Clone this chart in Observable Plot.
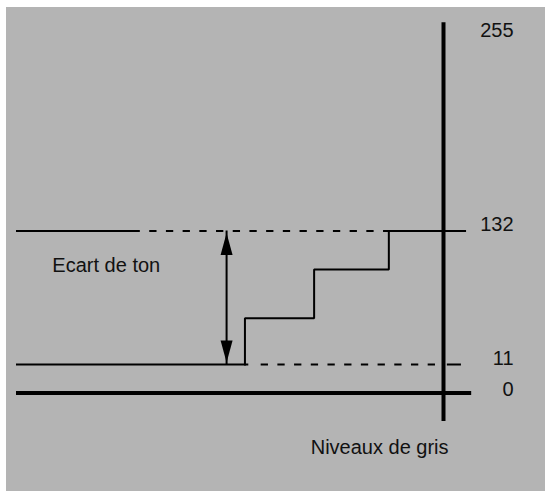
<!DOCTYPE html>
<html>
<head>
<meta charset="utf-8">
<script src="https://cdn.jsdelivr.net/npm/d3@7"></script>
<script src="https://cdn.jsdelivr.net/npm/@observablehq/plot@0.6"></script>
<style>
  html, body { margin: 0; padding: 0; background: #ffffff; }
  #chart { padding: 7px 0 0 6px; }
  #chart svg { display: block; background: #b4b4b4; }
</style>
</head>
<body>
<div id="chart"></div>
<script>
// Grey levels shown on the scale
const levels = [0, 11, 132, 255];
const levelLabels = ["0", "11", "132", "255"];
const levelLabelNudge = [2.5, 0, 0, 0];

// Staircase (tone steps) between 11 and 132
const stairX = [53.5, 53.5, 69.7, 69.7, 87.2, 87.2];
const stairY = [11, 53, 53, 97, 97, 132];

// Horizontal reference segments
const solidY  = [132, 132, 11, 11];
const solidX1 = [0, 87.2, 0, 100.9];
const solidX2 = [29.0, 105.4, 54.4, 104.2];
const dashY  = [132, 11];
const dashX1 = [31.2, 57.3];
const dashX2 = [87.2, 98.4];

// Main axes
const baseY = 0, baseX1 = 0, baseX2 = 106.6;
const axisX = 100, axisY1 = -11, axisY2 = 264;

// "Ecart de ton" double arrow
const arrowX = 49.2, arrowFrom = 11, arrowTo = 132;

// Texts
const gapLabel = "Ecart de ton";
const gapLabelX = 8.4, gapLabelY = 95;
const axisTitle = "Niveaux de gris";
const axisTitleX = 68.9, axisTitleY = -23.5;
const levelLabelX = 116.4;

const solid = solidY.map((y, i) => ({y, x1: solidX1[i], x2: solidX2[i]}));
const dashed = dashY.map((y, i) => ({y, x1: dashX1[i], x2: dashX2[i]}));
const stair = stairX.map((x, i) => ({x, y: stairY[i]}));
const labels = levels.map((v, i) => ({y: v, text: levelLabels[i], dy: levelLabelNudge[i]}));

const font = "'Liberation Sans', Arial, sans-serif";

const chart = Plot.plot({
  width: 539,
  height: 484,
  margin: 0,
  style: {background: "#b4b4b4", fontFamily: font},
  x: {type: "linear", domain: [0, 100], range: [10, 437], axis: null},
  y: {type: "linear", domain: [0, 11, 132, 255], range: [385.5, 357, 223.5, 29.5], axis: null},
  marks: [
    Plot.ruleY(solid, {y: "y", x1: "x1", x2: "x2", stroke: "black", strokeWidth: 2}),
    Plot.ruleY(dashed, {y: "y", x1: "x1", x2: "x2", stroke: "black", strokeWidth: 2, strokeDasharray: "7.3,9.4"}),
    Plot.line(stair, {x: "x", y: "y", stroke: "black", strokeWidth: 2, strokeLinejoin: "miter", strokeLinecap: "square"}),
    Plot.ruleY([baseY], {x1: baseX1, x2: baseX2, stroke: "black", strokeWidth: 4}),
    Plot.ruleX([axisX], {y1: axisY1, y2: axisY2, stroke: "black", strokeWidth: 4}),
    Plot.ruleX([arrowX], {y1: arrowFrom, y2: arrowTo, stroke: "black", strokeWidth: 2, dy: 0}),
    Plot.vector([{x: arrowX, y: arrowTo}], {x: "x", y: "y", length: 22, r: 6, rotate: 0, shape: "spike", anchor: "end", fill: "black", stroke: "none", dy: 2}),
    Plot.vector([{x: arrowX, y: arrowFrom}], {x: "x", y: "y", length: 22, r: 6, rotate: 180, shape: "spike", anchor: "end", fill: "black", stroke: "none", dy: -2}),
    Plot.text(labels.filter(d => d.dy === 0), {x: levelLabelX, y: "y", text: "text", textAnchor: "end", lineAnchor: "bottom", fontSize: 20, fill: "#111"}),
    Plot.text(labels.filter(d => d.dy !== 0), {x: levelLabelX, y: "y", text: "text", textAnchor: "end", lineAnchor: "bottom", fontSize: 20, fill: "#111", dy: 2.5}),
    Plot.text([gapLabel], {x: gapLabelX, y: gapLabelY, text: d => d, textAnchor: "start", lineAnchor: "bottom", fontSize: 20, fill: "#111"}),
    Plot.text([axisTitle], {x: axisTitleX, y: axisTitleY, text: d => d, textAnchor: "start", lineAnchor: "bottom", fontSize: 20, fill: "#111"})
  ]
});
document.getElementById("chart").appendChild(chart);
</script>
</body>
</html>
